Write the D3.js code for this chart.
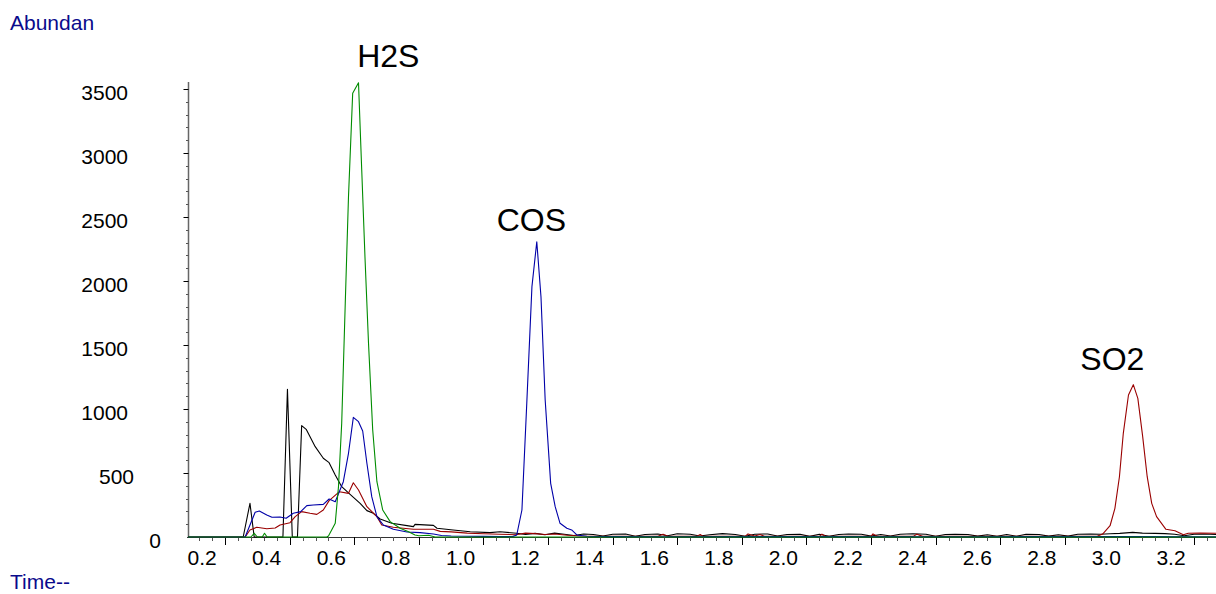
<!DOCTYPE html>
<html>
<head>
<meta charset="utf-8">
<script src="https://cdn.jsdelivr.net/npm/d3@7"></script>
<style>
  body { margin: 0; background: #fff; }
  text { font-family: "Liberation Sans", Arial, Helvetica, sans-serif; }
</style>
</head>
<body>
<div id="chart"></div>
<script>
// retention time (min), abundance
const blackTrace = [
  [0.085, 0], [0.256, 0], [0.277, 263], [0.290, 0], [0.379, 0], [0.393, 1154], [0.408, 0], [0.424, 0],
  [0.437, 870], [0.451, 841], [0.479, 706], [0.504, 615], [0.522, 581], [0.541, 484], [0.561, 393],
  [0.587, 333], [0.618, 263], [0.639, 206], [0.659, 185], [0.680, 141], [0.716, 107], [0.763, 89],
  [0.783, 81], [0.788, 99], [0.845, 91], [0.856, 68], [0.906, 55], [0.959, 41], [1.020, 34], [1.051, 41],
  [1.103, 29], [1.13, 20], [1.16, 28], [1.19, 18], [1.22, 30], [1.25, 22], [1.28, 12], [1.31, 24],
  [1.34, 20], [1.37, 8], [1.40, 22], [1.44, 24], [1.47, 6], [1.50, 20], [1.54, 23], [1.57, 10],
  [1.60, 25], [1.64, 22], [1.67, 8], [1.70, 18], [1.74, 26], [1.78, 20], [1.81, 6], [1.84, 22],
  [1.88, 24], [1.91, 8], [1.94, 20], [1.98, 22], [2.01, 5], [2.04, 21], [2.07, 6], [2.10, 20],
  [2.13, 24], [2.17, 22], [2.20, 7], [2.23, 19], [2.26, 8], [2.29, 22], [2.33, 25], [2.37, 21],
  [2.40, 6], [2.43, 20], [2.46, 22], [2.50, 19], [2.53, 7], [2.56, 18], [2.59, 6], [2.62, 20],
  [2.65, 6], [2.68, 22], [2.72, 20], [2.75, 7], [2.78, 18], [2.81, 7], [2.84, 21], [2.88, 24],
  [2.91, 22], [2.94, 25], [2.97, 28], [3.01, 36], [3.04, 30], [3.08, 28], [3.11, 26], [3.14, 22],
  [3.17, 10], [3.20, 22], [3.23, 24], [3.268, 20]
];

const blueTrace = [
  [0.085, 0], [0.262, 0], [0.293, 193], [0.306, 203], [0.329, 172], [0.345, 154], [0.370, 156],
  [0.389, 146], [0.411, 185], [0.434, 198], [0.453, 245], [0.473, 250], [0.504, 255], [0.522, 297],
  [0.541, 276], [0.566, 432], [0.582, 654], [0.597, 935], [0.613, 901], [0.626, 828], [0.639, 576],
  [0.654, 315], [0.670, 159], [0.690, 94], [0.721, 60], [0.763, 39], [0.804, 34], [0.845, 23],
  [0.87, 12], [0.90, 8], [0.95, 6], [1.00, 5], [1.05, 4], [1.09, 3], [1.103, 16], [1.119, 211],
  [1.134, 1044], [1.150, 1956], [1.165, 2307], [1.178, 1877], [1.191, 1070], [1.208, 419],
  [1.222, 237], [1.237, 107], [1.258, 68], [1.273, 55], [1.289, 16], [1.32, 6], [1.40, 3],
  [1.60, 2], [2.00, 3], [2.50, 2], [3.00, 4], [3.268, 2]
];

const redTrace = [
  [0.085, 0], [0.262, 0], [0.277, 55], [0.298, 76], [0.329, 65], [0.355, 70], [0.370, 94],
  [0.401, 112], [0.417, 159], [0.437, 198], [0.463, 185], [0.484, 177], [0.504, 211], [0.522, 284],
  [0.554, 354], [0.582, 341], [0.597, 424], [0.613, 367], [0.639, 237], [0.670, 159], [0.685, 94],
  [0.721, 76], [0.783, 60], [0.845, 60], [0.866, 44], [0.90, 40], [0.95, 30], [1.00, 25], [1.05, 22],
  [1.10, 18], [1.13, 30], [1.16, 26], [1.19, 20], [1.22, 24], [1.26, 14], [1.30, 8], [1.40, 6],
  [1.54, 5], [1.556, 22], [1.57, 5], [1.66, 5], [1.671, 20], [1.68, 5], [1.81, 5], [1.819, 24],
  [1.84, 8], [1.856, 20], [1.87, 5], [2.04, 5], [2.048, 22], [2.06, 5], [2.20, 5], [2.206, 24],
  [2.22, 5], [2.33, 5], [2.342, 22], [2.36, 5], [2.90, 5], [2.917, 23], [2.940, 88], [2.955, 224],
  [2.969, 471], [2.981, 810], [2.997, 1109], [3.012, 1190], [3.026, 1083], [3.041, 784],
  [3.055, 471], [3.069, 263], [3.084, 159], [3.113, 60], [3.141, 49], [3.167, 18], [3.182, 29],
  [3.219, 31], [3.268, 29]
];

const greenTrace = [
  [0.085, 0], [0.280, 0], [0.290, 29], [0.300, 0], [0.315, 0], [0.322, 29], [0.330, 0], [0.515, 0],
  [0.520, 8], [0.541, 107], [0.551, 393], [0.561, 888], [0.572, 1826], [0.582, 2659], [0.595, 3466],
  [0.613, 3549], [0.623, 2867], [0.633, 2190], [0.644, 1513], [0.657, 836], [0.670, 432],
  [0.688, 211], [0.711, 120], [0.742, 68], [0.768, 41], [0.788, 16], [0.80, 10], [0.83, 14],
  [0.85, 0], [3.268, 0]
];

const peakNames = ["H2S", "COS", "SO2"];
const peakTimes = [0.609, 1.041, 2.848];
const peakAbund = [3672, 2391, 1305];

const xTickLabels = ["0.2", "0.4", "0.6", "0.8", "1.0", "1.2", "1.4", "1.6", "1.8", "2.0",
                     "2.2", "2.4", "2.6", "2.8", "3.0", "3.2"];
const yTickLabels = ["0", "500", "1000", "1500", "2000", "2500", "3000", "3500"];

document.addEventListener("DOMContentLoaded", function() {
  const width = 1216, height = 594;

  const svg = d3.select("#chart")
    .append("svg")
    .attr("width", width)
    .attr("height", height);

  const x = d3.scaleLinear().domain([0.082, 3.268]).range([187, 1216]);
  const y = d3.scaleLinear().domain([0, 3500]).range([537, 89]);

  // axis titles
  svg.append("text")
    .attr("x", 10).attr("y", 30)
    .attr("font-size", 21)
    .attr("fill", "#0a0a8c")
    .text("Abundan");

  svg.append("text")
    .attr("x", 10).attr("y", 589)
    .attr("font-size", 21)
    .attr("fill", "#0a0a8c")
    .text("Time--");

  // y axis
  const axisX = 188.5;
  svg.append("line")
    .attr("x1", axisX).attr("x2", axisX)
    .attr("y1", 82).attr("y2", y(0))
    .attr("stroke", "#666").attr("stroke-width", 1.5);

  const yTicks = d3.range(1, 36).map(i => i * 100);
  svg.selectAll(".ytick")
    .data(yTicks)
    .enter()
    .append("line")
    .attr("class", "ytick")
    .attr("x1", d => d % 500 === 0 ? axisX - 5 : axisX - 2.5)
    .attr("x2", axisX)
    .attr("y1", d => Math.round(y(d)) + 0.5)
    .attr("y2", d => Math.round(y(d)) + 0.5)
    .attr("stroke", d => d % 500 === 0 ? "#000" : "#555")
    .attr("stroke-width", 1);

  // label right edges as placed in the original printout
  const yLabelRight = s => s.length >= 4 ? 128 : (s.length === 3 ? 134 : 161);
  svg.selectAll(".ylabel")
    .data(yTickLabels)
    .enter()
    .append("text")
    .attr("class", "ylabel")
    .attr("x", d => yLabelRight(d))
    .attr("y", d => y(+d) + 11)
    .attr("text-anchor", "end")
    .attr("font-size", 21)
    .attr("fill", "#000")
    .text(d => d);

  // x axis
  svg.append("line")
    .attr("x1", 187).attr("x2", 1216)
    .attr("y1", y(0) + 0.5).attr("y2", y(0) + 0.5)
    .attr("stroke", "#333").attr("stroke-width", 1);

  const xTicks = d3.range(3, 82).map(i => ({ t: i * 0.04, major: i % 5 === 0 }));
  svg.selectAll(".xtick")
    .data(xTicks)
    .enter()
    .append("line")
    .attr("class", "xtick")
    .attr("x1", d => Math.round(x(d.t)) + 0.5)
    .attr("x2", d => Math.round(x(d.t)) + 0.5)
    .attr("y1", y(0))
    .attr("y2", d => d.major ? y(0) + 8 : y(0) + 4)
    .attr("stroke", d => d.major ? "#000" : "#555")
    .attr("stroke-width", 1);

  svg.selectAll(".xlabel")
    .data(xTickLabels)
    .enter()
    .append("text")
    .attr("class", "xlabel")
    .attr("x", d => x(+d) - 23)
    .attr("y", 565)
    .attr("text-anchor", "middle")
    .attr("font-size", 21)
    .attr("fill", "#000")
    .text(d => d);

  // traces
  const line = d3.line()
    .x(d => x(d[0]))
    .y(d => y(d[1]));

  const traces = [
    { data: blackTrace, color: "#000000" },
    { data: redTrace, color: "#9a0000" },
    { data: blueTrace, color: "#0000a8" },
    { data: greenTrace, color: "#008c00" }
  ];

  svg.selectAll(".trace")
    .data(traces)
    .enter()
    .append("path")
    .attr("class", "trace")
    .attr("d", d => line(d.data))
    .attr("fill", "none")
    .attr("stroke", d => d.color)
    .attr("stroke-width", 1.1)
    .attr("stroke-linejoin", "round");

  // peak annotations
  svg.selectAll(".peak")
    .data(peakNames)
    .enter()
    .append("text")
    .attr("class", "peak")
    .attr("x", (d, i) => x(peakTimes[i]))
    .attr("y", (d, i) => y(peakAbund[i]))
    .attr("font-size", 32)
    .attr("fill", "#000")
    .text(d => d);
});
</script>
</body>
</html>
